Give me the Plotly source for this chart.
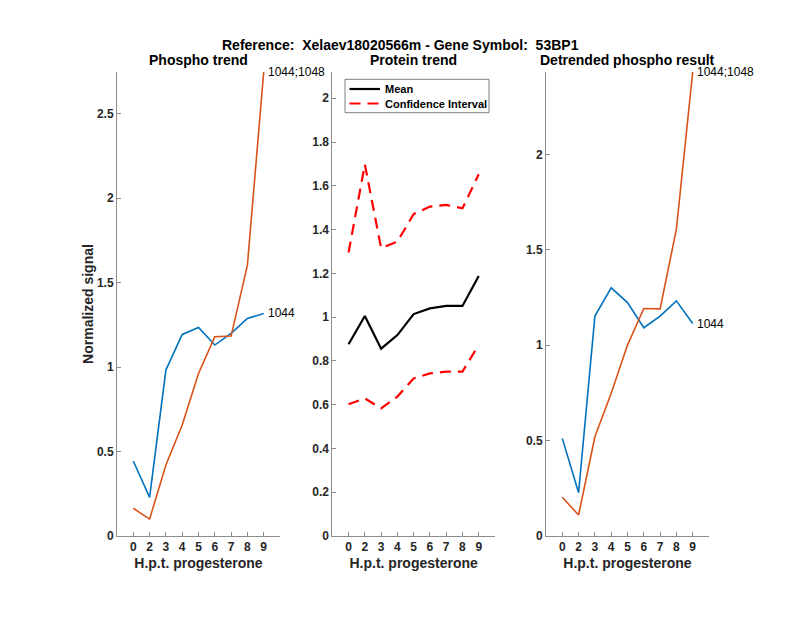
import plotly.graph_objects as go

categories = ['0', '2', '3', '4', '5', '6', '7', '8', '9']
xpos = list(range(1, len(categories) + 1))

phospho_1044 = [0.444, 0.229, 0.982, 1.193, 1.234, 1.130, 1.199, 1.287, 1.317]
phospho_1044_1048 = [0.164, 0.100, 0.420, 0.657, 0.962, 1.179, 1.183, 1.603, 2.746]

protein_mean = [0.876, 1.005, 0.856, 0.918, 1.014, 1.040, 1.051, 1.051, 1.188]
protein_upper = [1.295, 1.698, 1.315, 1.345, 1.471, 1.505, 1.513, 1.497, 1.653]
protein_lower = [0.602, 0.629, 0.583, 0.637, 0.720, 0.743, 0.751, 0.751, 0.873]

detr_1044 = [0.512, 0.227, 1.153, 1.301, 1.224, 1.092, 1.153, 1.233, 1.114]
detr_1044_1048 = [0.203, 0.110, 0.520, 0.748, 1.001, 1.193, 1.191, 1.609, 2.433]

label_a = '1044'
label_b = '1044;1048'
legend_labels = ['Mean', 'Confidence Interval']

BLUE = '#0072BD'
ORANGE = '#D95319'
AX = '#262626'
AXLINE = '#8c8c8c'
FONT = 'Liberation Sans, Arial, Helvetica, sans-serif'
DASH = '11px,7px'

W, H = 800, 618
def px(x):
    return x / W
def py(y):
    return 1 - y / H

fig = go.Figure()

# Panel 1
fig.add_trace(go.Scatter(x=xpos, y=phospho_1044, mode='lines', line=dict(color=BLUE, width=1.6),
                         showlegend=False, xaxis='x', yaxis='y'))
fig.add_trace(go.Scatter(x=xpos, y=phospho_1044_1048, mode='lines', line=dict(color=ORANGE, width=1.6),
                         showlegend=False, xaxis='x', yaxis='y'))
# Panel 2
fig.add_trace(go.Scatter(x=xpos, y=protein_mean, mode='lines', name=legend_labels[0], showlegend=False,
                         line=dict(color='black', width=2.2), xaxis='x2', yaxis='y2'))
fig.add_trace(go.Scatter(x=xpos, y=protein_upper, mode='lines', name=legend_labels[1], showlegend=False,
                         line=dict(color='#FF0000', width=2.2, dash=DASH), xaxis='x2', yaxis='y2'))
fig.add_trace(go.Scatter(x=xpos, y=protein_lower, mode='lines', showlegend=False,
                         line=dict(color='#FF0000', width=2.2, dash=DASH), xaxis='x2', yaxis='y2'))
# Panel 3
fig.add_trace(go.Scatter(x=xpos, y=detr_1044, mode='lines', line=dict(color=BLUE, width=1.6),
                         showlegend=False, xaxis='x3', yaxis='y3'))
fig.add_trace(go.Scatter(x=xpos, y=detr_1044_1048, mode='lines', line=dict(color=ORANGE, width=1.6),
                         showlegend=False, xaxis='x3', yaxis='y3'))

ydom = [py(536), py(72)]
xdoms = [[px(117), px(280)], [px(332.3), px(495)], [px(546), px(709)]]

def xaxis_cfg(dom, anchor):
    return dict(domain=dom, anchor=anchor, range=[0, 10], tickmode='array', tickvals=xpos,
                ticktext=categories, showline=True, linecolor=AXLINE, linewidth=1, ticks='inside',
                ticklen=4, tickcolor=AXLINE, showgrid=False, zeroline=False, automargin=False,
                tickfont=dict(family=FONT, size=12, color=AX, weight='bold'),
                title=dict(text='H.p.t. progesterone', font=dict(family=FONT, size=14, color=AX, weight='bold'),
                           standoff=4))

def yaxis_cfg(anchor, rng, dtick):
    return dict(domain=ydom, anchor=anchor, range=rng, dtick=dtick, tick0=0, showline=True,
                linecolor=AXLINE, linewidth=1, ticks='inside', ticklen=4, tickcolor=AXLINE, showgrid=False,
                zeroline=False, automargin=False, tickfont=dict(family=FONT, size=12, color=AX, weight='bold'))

fig.update_layout(
    width=W, height=H,
    margin=dict(l=0, r=0, t=0, b=0, autoexpand=False),
    paper_bgcolor='white', plot_bgcolor='white',
    showlegend=False,
    xaxis=xaxis_cfg(xdoms[0], 'y'),
    xaxis2=xaxis_cfg(xdoms[1], 'y2'),
    xaxis3=xaxis_cfg(xdoms[2], 'y3'),
    yaxis=yaxis_cfg('x', [0, 2.746], 0.5),
    yaxis2=yaxis_cfg('x2', [0, 2.12], 0.2),
    yaxis3=yaxis_cfg('x3', [0, 2.433], 0.5),
)
fig.layout.yaxis.title = dict(text='Normalized signal', font=dict(family=FONT, size=14, color=AX, weight='bold'),
                              standoff=0)

# Legend box (drawn in paper space)
shapes = [
    dict(type='rect', xref='paper', yref='paper', x0=px(345), x1=px(489), y0=py(112.7), y1=py(79.3),
         line=dict(color='#7f7f7f', width=1), fillcolor='white', layer='above'),
    dict(type='line', xref='paper', yref='paper', x0=px(349.5), x1=px(380), y0=py(89), y1=py(89),
         line=dict(color='black', width=2.2), layer='above'),
    dict(type='line', xref='paper', yref='paper', x0=px(349.5), x1=px(380), y0=py(103.5), y1=py(103.5),
         line=dict(color='#FF0000', width=2.2, dash=DASH), layer='above'),
]
fig.update_layout(shapes=shapes)

TF = dict(family=FONT, size=14, color='black', weight='bold')
LF = dict(family=FONT, size=11, color='black', weight='bold')
annotations = [
    dict(text='Reference:  Xelaev18020566m - Gene Symbol:  53BP1', x=0.5, y=py(45),
         xref='paper', yref='paper', xanchor='center', yanchor='middle', showarrow=False, font=TF),
    dict(text='Phospho trend', x=sum(xdoms[0]) / 2, y=py(60), xref='paper', yref='paper',
         xanchor='center', yanchor='middle', showarrow=False, font=TF),
    dict(text='Protein trend', x=sum(xdoms[1]) / 2, y=py(60), xref='paper', yref='paper',
         xanchor='center', yanchor='middle', showarrow=False, font=TF),
    dict(text='Detrended phospho result', x=sum(xdoms[2]) / 2, y=py(60), xref='paper', yref='paper',
         xanchor='center', yanchor='middle', showarrow=False, font=TF),
    dict(text=legend_labels[0], x=px(382.5), y=py(89), xref='paper', yref='paper',
         xanchor='left', yanchor='middle', showarrow=False, font=LF),
    dict(text=legend_labels[1], x=px(382.5), y=py(103.5), xref='paper', yref='paper',
         xanchor='left', yanchor='middle', showarrow=False, font=LF),
    dict(text=label_b, x=xpos[-1], y=phospho_1044_1048[-1], xref='x', yref='y', xanchor='left',
         xshift=2, showarrow=False, font=dict(family=FONT, size=12, color='black')),
    dict(text=label_a, x=xpos[-1], y=phospho_1044[-1], xref='x', yref='y', xanchor='left',
         xshift=2, showarrow=False, font=dict(family=FONT, size=12, color='black')),
    dict(text=label_b, x=xpos[-1], y=detr_1044_1048[-1], xref='x3', yref='y3', xanchor='left',
         xshift=2, showarrow=False, font=dict(family=FONT, size=12, color='black')),
    dict(text=label_a, x=xpos[-1], y=detr_1044[-1], xref='x3', yref='y3', xanchor='left',
         xshift=2, showarrow=False, font=dict(family=FONT, size=12, color='black')),
]
fig.update_layout(annotations=annotations)

fig.write_html('out.html', config={'displayModeBar': False},
               post_script="document.body.style.margin='0';")
